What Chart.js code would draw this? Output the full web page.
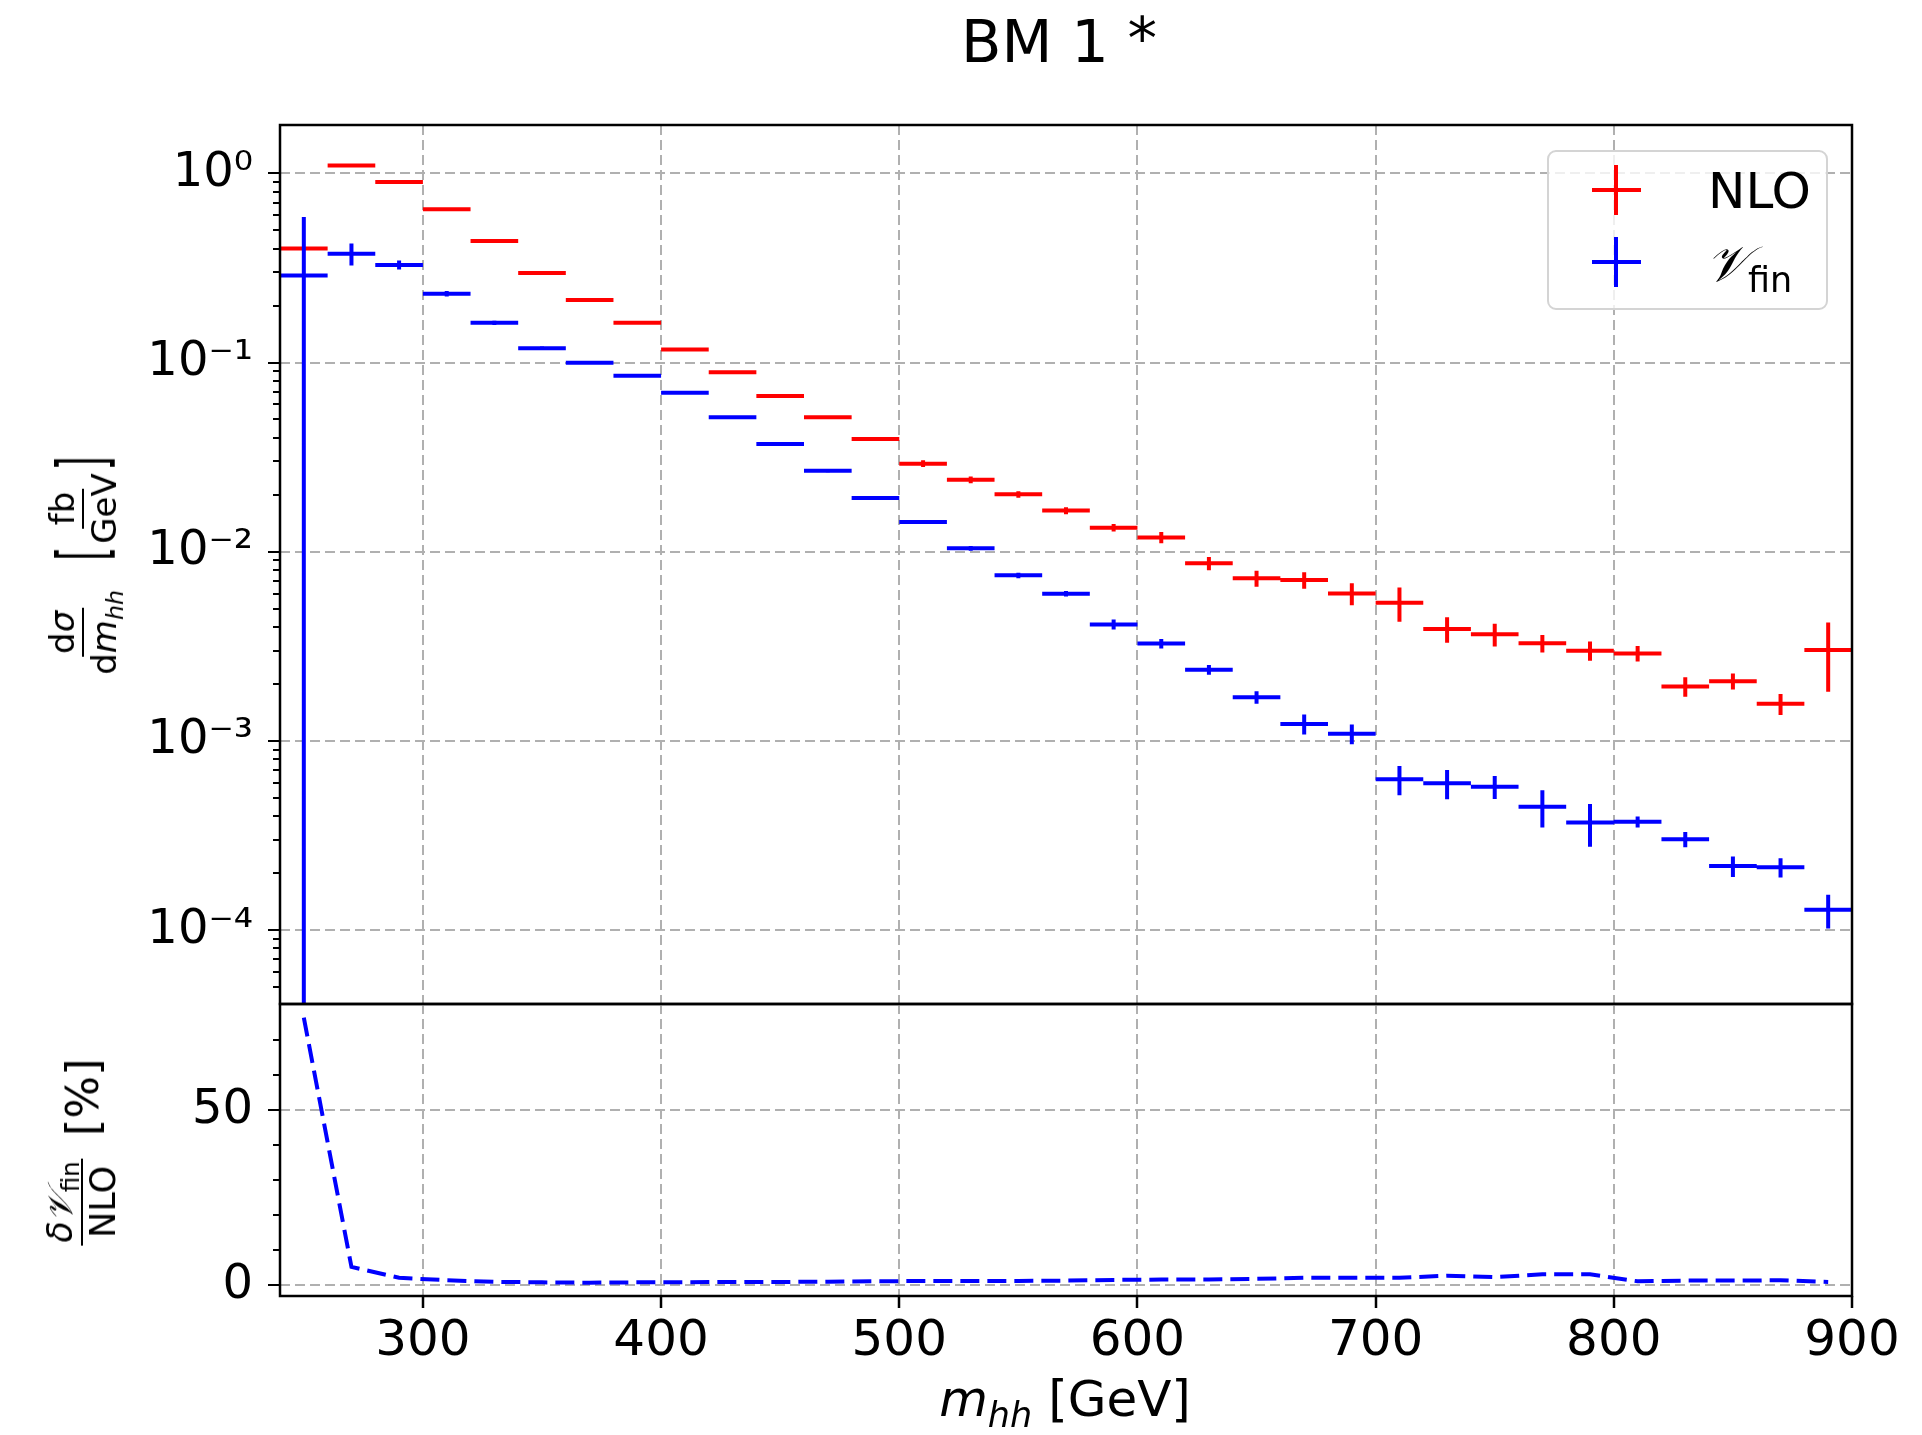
<!DOCTYPE html>
<html>
<head>
<meta charset="utf-8">
<title>BM 1*</title>
<script src="https://cdn.jsdelivr.net/npm/chart.js@4.4.1/dist/chart.umd.min.js"></script>
<style>
  html, body { margin: 0; padding: 0; background: #fff; }
  #page { position: relative; width: 1922px; height: 1435px; overflow: hidden; font-family: 'DejaVu Sans', sans-serif; color: #000; }
  canvas { position: absolute; left: 0; }
  .txt { position: absolute; white-space: nowrap; line-height: 1; }
  .ylab { position: absolute; display: flex; align-items: center; white-space: nowrap; line-height: 1; transform: translate(-50%, -50%) rotate(-90deg); }
  .frac { display: inline-flex; flex-direction: column; align-items: center; }
  .frac .num { border-bottom: 2px solid #000; padding: 0 3px 3px; line-height: 1; }
  .frac .den { padding: 3px 3px 0; line-height: 1; }
  sub { font-size: 0.7em; vertical-align: -0.3em; line-height: 0; }
  .br { display: inline-block; transform: scaleY(1.9); }
  .cal { font-family: 'DejaVu Serif', serif; font-style: italic; }
  #legend { position: absolute; left: 1547px; top: 150px; width: 281px; height: 160px; box-sizing: border-box;
            border: 2px solid #d4d4d4; border-radius: 9px; background: rgba(255,255,255,0.8); }
  .bar { position: absolute; }
</style>
</head>
<body>
<div id="page">
  <canvas id="topCanvas" width="1922" height="1064" style="top:0"></canvas>
  <canvas id="ratioCanvas" width="1922" height="481" style="top:954px"></canvas>

  <div class="txt" style="left:1059px; top:12px; font-size:59px; transform:translateX(-50%)">BM 1 <span style="position:relative; top:-3px">*</span></div>

  <div class="ylab" style="left:83px; top:567px;">
    <span class="frac" style="font-size:34px"><span class="num">d<i>σ</i></span><span class="den">d<i>m</i><sub><i>hh</i></sub></span></span>
    <span style="display:inline-block; width:26px"></span>
    <span class="br" style="font-size:36px">[</span>
    <span class="frac" style="font-size:34px"><span class="num">fb</span><span class="den">GeV</span></span>
    <span class="br" style="font-size:36px">]</span>
  </div>

  <div class="ylab" style="left:82px; top:1152px;">
    <span class="frac" style="font-size:35px"><span class="num"><i>δ</i><span class="cal">𝒱</span><sub>fin</sub></span><span class="den">NLO</span></span>
    <span style="display:inline-block; width:22px"></span>
    <span style="font-size:45px">[%]</span>
  </div>

  <div class="txt" style="left:1065px; top:1374px; font-size:50px; transform:translateX(-50%)"><i>m</i><sub><i>hh</i></sub> [GeV]</div>

  <div id="legend"></div>
  <div class="bar" style="left:1592px; top:188px; width:49px; height:4px; background:#ff0000"></div>
  <div class="bar" style="left:1614px; top:165px; width:4px; height:50px; background:#ff0000"></div>
  <div class="bar" style="left:1592px; top:260px; width:49px; height:4px; background:#0000ff"></div>
  <div class="bar" style="left:1614px; top:237px; width:4px; height:50px; background:#0000ff"></div>
  <div class="txt" style="left:1708px; top:166px; font-size:50px">NLO</div>
  <div class="txt" style="left:1706px; top:239px; font-size:50px"><span class="cal">𝒱</span><sub>fin</sub></div>
</div>

<script>
// bins in m_hh [GeV]
const binEdges = [240, 260, 280, 300, 320, 340, 360, 380, 400, 420, 440, 460, 480, 500, 520, 540, 560,
                  580, 600, 620, 640, 660, 680, 700, 720, 740, 760, 780, 800, 820, 840, 860, 880, 900];

// dsigma/dm_hh [fb/GeV], NLO
const nloValues = [0.40, 1.10, 0.90, 0.645, 0.439, 0.297, 0.214, 0.162, 0.117, 0.0887, 0.0665,
                   0.0513, 0.0394, 0.0292, 0.0240, 0.0201, 0.0165, 0.0134, 0.0119, 0.00868, 0.00723,
                   0.00708, 0.00602, 0.00537, 0.00390, 0.00366, 0.00328, 0.00300, 0.00290, 0.00194,
                   0.00207, 0.00157, 0.00302];
const nloErrors = [0.003, 0.005, 0.004, 0.003, 0.002, 0.0015, 0.001, 0.0008, 0.0006, 0.0005, 0.0004,
                   0.0003, 0.00025, 0.0012, 0.001, 0.0008, 0.0007, 0.0006, 0.0008, 0.0007, 0.0007,
                   0.0007, 0.0008, 0.0011, 0.0006, 0.0005, 0.00035, 0.00035, 0.00027, 0.00023,
                   0.0002, 0.0002, 0.0012];

// V_fin
const vfinValues = [0.288, 0.376, 0.328, 0.231, 0.162, 0.119, 0.0998, 0.0852, 0.0693, 0.0513, 0.0371,
                    0.0268, 0.0192, 0.01435, 0.01042, 0.00750, 0.00600, 0.00413, 0.00327, 0.00238,
                    0.00170, 0.00123, 0.00109, 0.000627, 0.000597, 0.000573, 0.000449, 0.000370,
                    0.000374, 0.000302, 0.000218, 0.000215, 0.000128];
const vfinErrors = [0.30, 0.05, 0.018, 0.008, 0.004, 0.0024, 0.0015, 0.0013, 0.001, 0.0008, 0.0006,
                    0.0005, 0.0004, 0.00035, 0.0003, 0.00025, 0.0002, 0.00025, 0.00019, 0.00014,
                    0.00013, 0.00015, 0.00013, 0.00011, 0.000105, 0.00008, 0.0001, 0.000094,
                    0.000025, 0.000028, 0.000027, 0.000025, 0.000026];

// delta V_fin / NLO [%] at bin centres
const ratioValues = [76.4, 5.2, 2.1, 1.4, 0.95, 0.8, 0.7, 0.8, 0.85, 0.9, 0.9, 1.0, 1.1, 1.2, 1.2, 1.2,
                     1.3, 1.5, 1.6, 1.6, 1.8, 2.1, 2.1, 2.1, 2.7, 2.3, 3.1, 3.1, 1.1, 1.3, 1.3, 1.4, 0.9];

// axes
const xTicks = [300, 400, 500, 600, 700, 800, 900];
const yMajorTicks = [1e-4, 1e-3, 1e-2, 1e-1, 1];
const yMajorLabels = ['10⁻⁴', '10⁻³', '10⁻²', '10⁻¹', '10⁰'];
const ratioMajorTicks = [0, 50];
const ratioMinorTicks = [10, 20, 30, 40, 60, 70];

const X_MIN = 240, X_MAX = 900;
const Y_MIN = 4.07e-5, Y_MAX = 1.8;
const R_MIN = -3.1, R_MAX = 80.3;

const FONT = 'DejaVu Sans';
const GRID = '#b0b0b0';

// horizontal bin lines, separated by gaps
function binLines(values) {
    const pts = [];
    values.forEach((v, i) => {
        pts.push({x: binEdges[i], y: v}, {x: binEdges[i + 1], y: v}, {x: binEdges[i + 1], y: null});
    });
    return pts;
}

// vertical error bars at bin centres
function errLines(values, errs, floor) {
    const pts = [];
    values.forEach((v, i) => {
        const c = (binEdges[i] + binEdges[i + 1]) / 2;
        const lo = floor !== undefined ? Math.max(v - errs[i], floor) : v - errs[i];
        pts.push({x: c, y: lo}, {x: c, y: v + errs[i]}, {x: c, y: null});
    });
    return pts;
}

const framePlugin = {
    id: 'frame',
    afterDraw(chart) {
        const {ctx, chartArea: a} = chart;
        ctx.save();
        ctx.strokeStyle = '#000';
        ctx.lineWidth = 2.5;
        ctx.strokeRect(a.left, a.top, a.right - a.left, a.bottom - a.top);
        ctx.restore();
    }
};

const lineStyle = (color, order) => ({
    showLine: true, borderColor: color, backgroundColor: color, borderWidth: 4,
    pointRadius: 0, pointHoverRadius: 0, spanGaps: false, borderCapStyle: 'butt', order
});

const yTickList = [];
for (let e = -5; e <= 0; e++) {
    for (let k = 1; k <= 9; k++) {
        const v = k * Math.pow(10, e);
        if (v >= Y_MIN && v <= Y_MAX) yTickList.push({value: v, major: k === 1});
    }
}

const xScale = (showLabels) => ({
    type: 'linear', min: X_MIN, max: X_MAX,
    afterBuildTicks: s => { s.ticks = xTicks.map(v => ({value: v})); },
    afterFit: showLabels ? (s => { s.height = 139; }) : (s => { s.height = 60; }),
    ticks: {
        display: showLabels, autoSkip: false, maxRotation: 0, padding: 4,
        color: '#000', font: {family: FONT, size: 50},
        callback: v => String(v)
    },
    grid: { color: GRID, lineWidth: 2, drawTicks: showLabels, tickLength: 12, tickColor: '#000', tickWidth: 2.5 },
    border: { display: false, dash: [10, 5] }
});

new Chart(document.getElementById('topCanvas'), {
    type: 'scatter',
    data: {
        datasets: [
            {label: 'NLO', data: binLines(nloValues), ...lineStyle('#ff0000', 2)},
            {label: 'NLO error', data: errLines(nloValues, nloErrors), ...lineStyle('#ff0000', 2)},
            {label: 'V_fin', data: binLines(vfinValues), ...lineStyle('#0000ff', 1)},
            {label: 'V_fin error', data: errLines(vfinValues, vfinErrors, Y_MIN), ...lineStyle('#0000ff', 1)}
        ]
    },
    options: {
        responsive: false,
        animation: false,
        events: [],
        layout: {padding: {left: 0, right: 70, top: 125, bottom: 0}},
        plugins: {legend: {display: false}, tooltip: {enabled: false}},
        scales: {
            x: xScale(false),
            y: {
                type: 'logarithmic', min: Y_MIN, max: Y_MAX,
                afterBuildTicks: s => { s.ticks = yTickList.map(t => ({value: t.value, major: t.major})); },
                afterFit: s => { s.width = 280; },
                ticks: {
                    autoSkip: false, padding: 15, color: '#000', font: {family: FONT, size: 48},
                    callback: v => {
                        const i = yMajorTicks.findIndex(m => Math.abs(m - v) / m < 1e-6);
                        return i >= 0 ? yMajorLabels[i] : '';
                    }
                },
                grid: {
                    color: c => (c.tick && c.tick.major ? GRID : 'rgba(0,0,0,0)'),
                    lineWidth: 2, tickLength: 12, tickColor: '#000', tickWidth: 2,
                    tickBorderDash: c => (c.tick && c.tick.major ? [] : [0, 5, 20, 0])
                },
                border: {display: false, dash: [10, 5]}
            }
        }
    },
    plugins: [framePlugin]
});

const ratioTickList = ratioMajorTicks.map(v => ({value: v, major: true}))
    .concat(ratioMinorTicks.map(v => ({value: v, major: false})))
    .sort((a, b) => a.value - b.value);

new Chart(document.getElementById('ratioCanvas'), {
    type: 'scatter',
    data: {
        datasets: [{
            label: 'delta V_fin / NLO',
            data: ratioValues.map((r, i) => ({x: (binEdges[i] + binEdges[i + 1]) / 2, y: r})),
            showLine: true, borderColor: '#0000ff', borderWidth: 4, borderDash: [19, 8],
            pointRadius: 0, pointHoverRadius: 0, tension: 0
        }]
    },
    options: {
        responsive: false,
        animation: false,
        events: [],
        layout: {padding: {left: 0, right: 70, top: 50, bottom: 0}},
        plugins: {legend: {display: false}, tooltip: {enabled: false}},
        scales: {
            x: xScale(true),
            y: {
                type: 'linear', min: R_MIN, max: R_MAX,
                afterBuildTicks: s => { s.ticks = ratioTickList.map(t => ({value: t.value, major: t.major})); },
                afterFit: s => { s.width = 280; },
                ticks: {
                    autoSkip: false, padding: 15, color: '#000', font: {family: FONT, size: 48},
                    callback: v => (ratioMajorTicks.includes(v) ? String(v) : '')
                },
                grid: {
                    color: c => (c.tick && c.tick.major ? GRID : 'rgba(0,0,0,0)'),
                    lineWidth: 2, tickLength: 12, tickColor: '#000', tickWidth: 2,
                    tickBorderDash: c => (c.tick && c.tick.major ? [] : [0, 5, 20, 0])
                },
                border: {display: false, dash: [10, 5]}
            }
        }
    },
    plugins: [framePlugin]
});
</script>
</body>
</html>
